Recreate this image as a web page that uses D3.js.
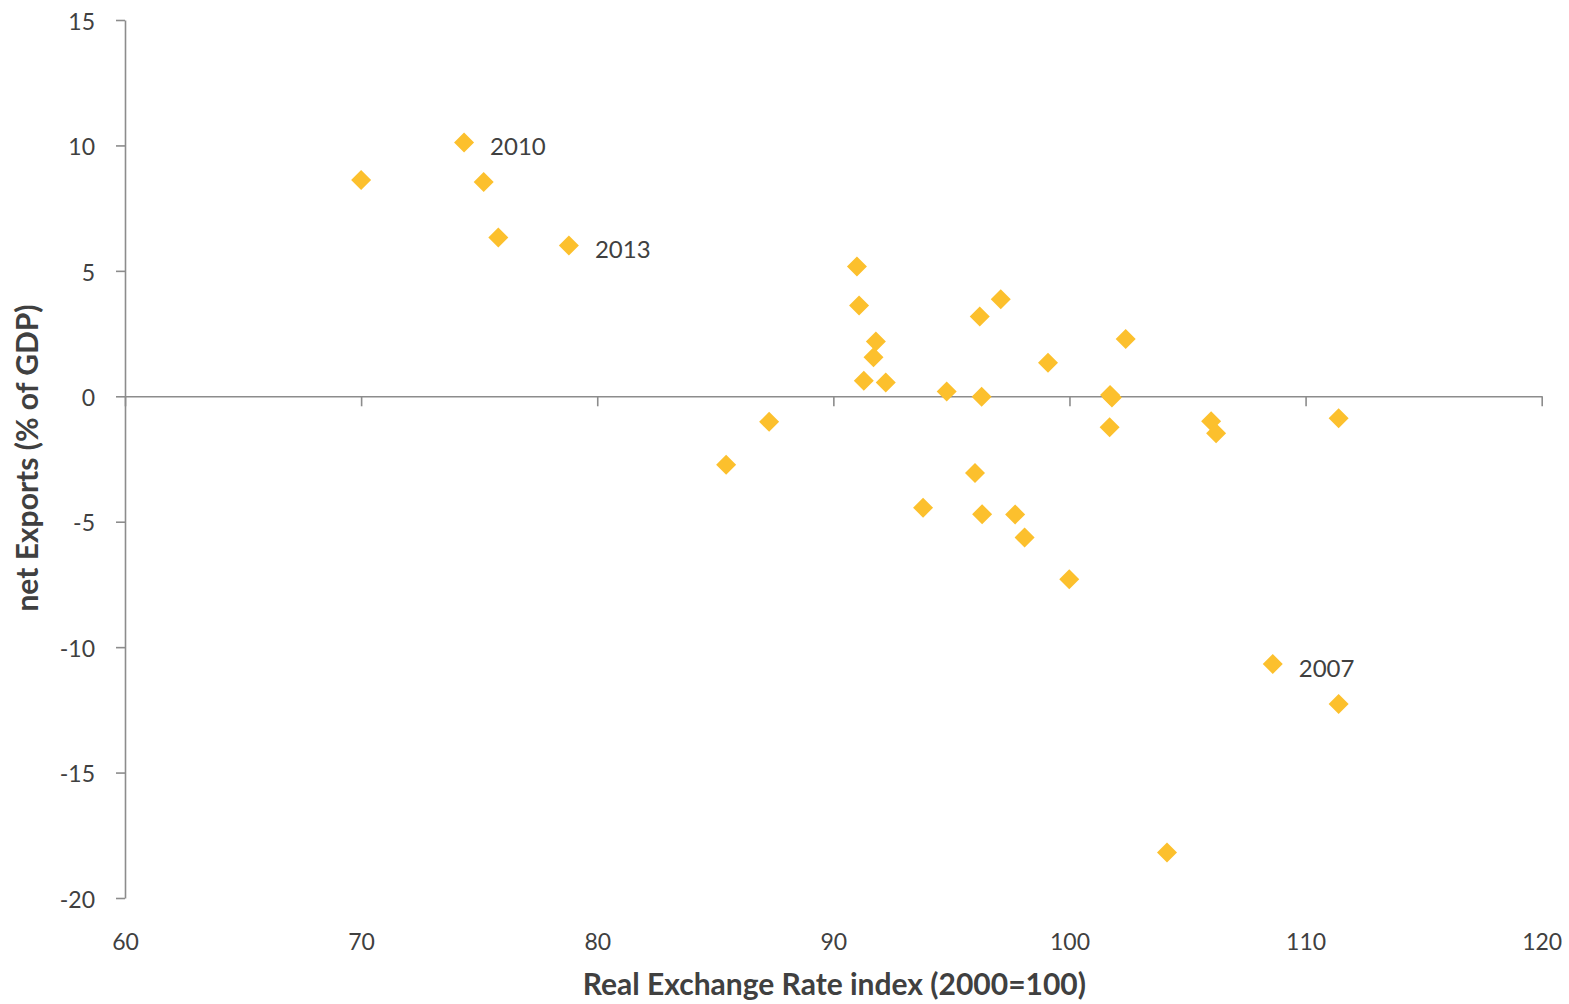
<!DOCTYPE html>
<html>
<head>
<meta charset="utf-8">
<script src="https://cdn.jsdelivr.net/npm/d3@7"></script>
<style>
  html, body { margin: 0; padding: 0; background: #fff; }
  svg { display: block; }
  text { font-family: Lato, "Open Sans", sans-serif; fill: #404040; }
</style>
</head>
<body>
<svg id="chart" width="1569" height="1004"></svg>
<script>
// Real Exchange Rate index (2000=100)
const rer = [70.0, 74.36, 75.19, 75.81, 78.8, 91.0, 91.09, 91.8, 91.7, 91.29, 92.22, 94.8, 96.28, 96.2, 97.09, 99.09, 101.72, 101.8, 102.38, 101.7, 106.0, 106.21, 111.4, 108.61, 111.4, 96.0, 93.8, 96.3, 97.7, 98.1, 99.99, 85.46, 87.28, 104.13];
// net Exports (% of GDP)
const netExports = [8.62, 10.12, 8.54, 6.33, 6.01, 5.17, 3.62, 2.18, 1.56, 0.62, 0.55, 0.19, -0.02, 3.18, 3.87, 1.34, 0.05, -0.05, 2.28, -1.23, -1.0, -1.47, -0.88, -10.67, -12.27, -3.06, -4.44, -4.7, -4.71, -5.63, -7.29, -2.73, -1.02, -18.19];
// year labels
const labelYears = ["2010", "2013", "2007"];
const labelIdx = [1, 4, 23];

const xTicks = [60, 70, 80, 90, 100, 110, 120];
const yTicks = [15, 10, 5, 0, -5, -10, -15, -20];

const svg = d3.select("#chart");
const x = d3.scaleLinear().domain([60, 120]).range([125, 1541.7]);
const y = d3.scaleLinear().domain([-20, 15]).range([898, 20]);

const axisColor = "#8c8c8c";
const fmt = d => String(d);

// Y axis
const yAxis = svg.append("g")
  .attr("transform", `translate(${x(60)},0)`)
  .call(d3.axisLeft(y).tickValues(yTicks).tickSize(9).tickSizeOuter(0).tickPadding(21).tickFormat(fmt));
yAxis.select(".domain").attr("stroke", axisColor).attr("stroke-width", 1.6);
yAxis.selectAll(".tick line").attr("stroke", axisColor).attr("stroke-width", 1.6);
yAxis.selectAll(".tick text").style("font-size", "23px").attr("fill", "#404040").attr("dy", "0.4em");

// X axis line at y = 0
const xAxis = svg.append("g")
  .attr("transform", `translate(0,${y(0)})`)
  .call(d3.axisBottom(x).tickValues(xTicks).tickSize(10).tickSizeOuter(0).tickFormat(""));
xAxis.select(".domain").attr("stroke", axisColor).attr("stroke-width", 1.6);
xAxis.selectAll(".tick line").attr("stroke", axisColor).attr("stroke-width", 1.6);

// X tick labels at the bottom
const xLab = svg.append("g")
  .attr("transform", `translate(0,${y(-20)})`)
  .call(d3.axisBottom(x).tickValues(xTicks).tickSize(0).tickPadding(36).tickFormat(fmt));
xLab.select(".domain").remove();
xLab.selectAll(".tick text").style("font-size", "23px").attr("fill", "#404040");

// Points
const pts = rer.map((v, i) => ({ x: v, y: netExports[i] }));
svg.append("g").selectAll("path.pt")
  .data(pts)
  .join("path")
  .attr("class", "pt")
  .attr("d", d3.symbol().type(d3.symbolDiamond2).size(255))
  .attr("transform", d => `translate(${x(d.x)},${y(d.y)})`)
  .attr("fill", "#FCC02D");

// Year labels
svg.append("g").selectAll("text.lbl")
  .data(labelIdx.map((k, j) => ({ x: rer[k], y: netExports[k], t: labelYears[j] })))
  .join("text")
  .attr("class", "lbl")
  .attr("x", d => x(d.x) + 26)
  .attr("y", d => y(d.y) + 4)
  .attr("dy", "0.36em")
  .style("font-size", "24px")
  .text(d => d.t);

// Axis titles
svg.append("text")
  .attr("x", (x(60) + x(120)) / 2 + 1)
  .attr("y", 995)
  .attr("text-anchor", "middle")
  .style("font-size", "30px")
  .style("font-weight", "bold")
  .text("Real Exchange Rate index (2000=100)");

svg.append("text")
  .attr("transform", `translate(38,${458}) rotate(-90)`)
  .attr("text-anchor", "middle")
  .style("font-size", "30px")
  .style("font-weight", "bold")
  .text("net Exports (% of GDP)");
</script>
</body>
</html>
